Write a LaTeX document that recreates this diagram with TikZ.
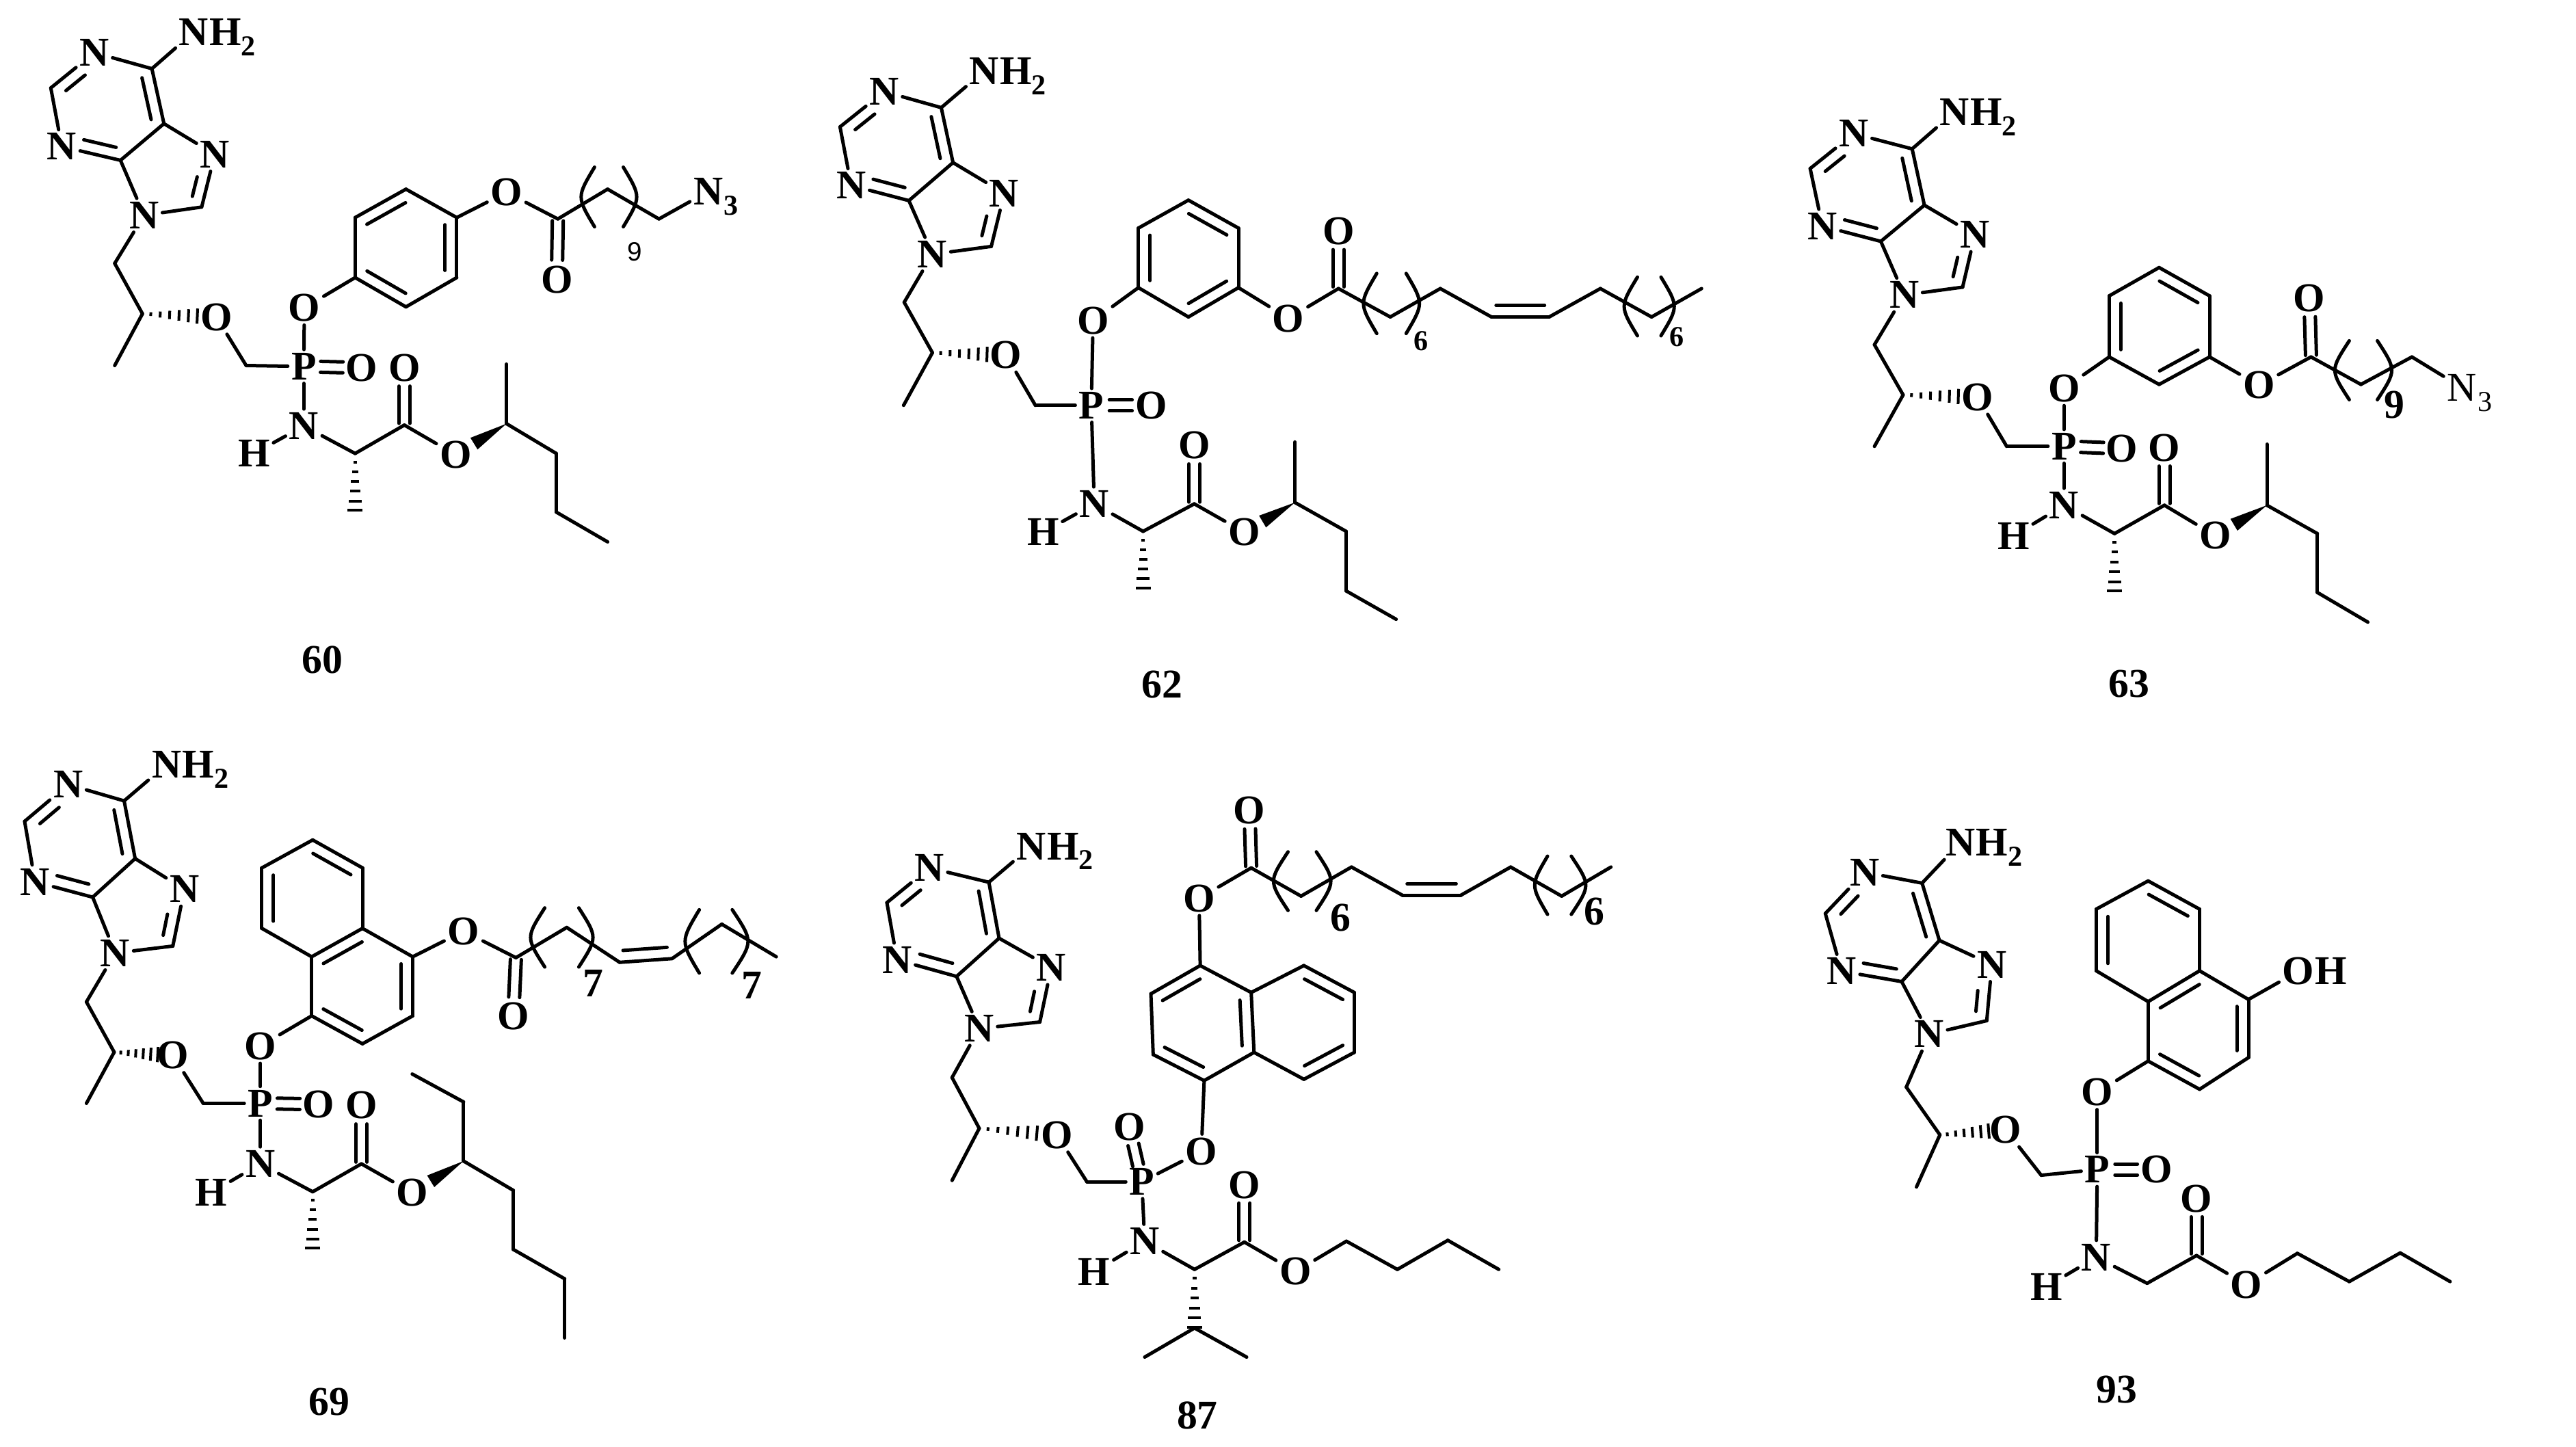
\documentclass[tikz,border=0pt]{standalone}
\usepackage{fontspec}
\setmainfont{Liberation Serif}
\newfontfamily\lsans{Liberation Sans}
\usetikzlibrary{calc}
\tikzset{
  bond/.style={line width=.05cm,line cap=round,line join=round},
  atom/.style={font=\fontsize{17}{19}\selectfont\bfseries,inner sep=.045cm},
  suffix/.style={font=\fontsize{17}{19}\selectfont\bfseries,inner sep=0pt,anchor=base west},
  title/.style={font=\fontsize{17}{19}\selectfont\bfseries,inner sep=0pt},
  count/.style={font=\fontsize{17}{19}\selectfont\bfseries,inner sep=0pt},
  smallcount/.style={font=\fontsize{12}{14}\selectfont\bfseries,inner sep=0pt},
  sanscount/.style={font=\fontsize{11}{13}\selectfont\lsans,inner sep=0pt},
  hashbar/.style={line width=.04cm}
}
\newcommand\subn[1]{\raisebox{-.25em}{\fontsize{12}{13}\selectfont #1}}
\newcommand\Ats[1]{\foreach \n/\x/\y/\l in {#1}{\node[atom] (\m-\n) at (\x,\y) {\l};}}
\newcommand\Cs[1]{\foreach \n/\x/\y in {#1}{\coordinate (\m-\n) at (\x,\y);}}
\newcommand\Bs[1]{\foreach \p/\q in {#1}{\draw[bond] (\m-\p)--(\m-\q);}}
\newcommand\In[4]{\draw[bond] ($(\m-#1)!#3!(\m-#2)!.17cm!90:(\m-#2)$)--($(\m-#1)!#4!(\m-#2)!.17cm!90:(\m-#2)$);}
\newcommand\Two[4]{%
  \draw[bond] ($(\m-#1)!#3!(\m-#2)!.08cm!90:(\m-#2)$)--($(\m-#1)!#4!(\m-#2)!.08cm!90:(\m-#2)$);
  \draw[bond] ($(\m-#1)!#3!(\m-#2)!.08cm!-90:(\m-#2)$)--($(\m-#1)!#4!(\m-#2)!.08cm!-90:(\m-#2)$);}
\newcommand\Hash[2]{\foreach \t in {.15,.32,.49,.66,.83,.99}{%
  \pgfmathsetmacro\w{.012+.1*\t}
  \draw[hashbar] ($(\m-#1)!\t!(\m-#2)!\w cm!90:(\m-#2)$)--($(\m-#1)!\t!(\m-#2)!\w cm!-90:(\m-#2)$);}}
\newcommand\Wedge[2]{%
  \coordinate (\m-we) at ($(\m-#1)!.64!(\m-#2)$);
  \fill ($(\m-we)!.1cm!90:(\m-#1)$)--(\m-#1)--($(\m-we)!.1cm!-90:(\m-#1)$)--cycle;}
\newcommand\Paren[4]{\draw[bond] (#1,#2) .. controls ({#1+2*#4},{(#2+#3)/2}) .. (#1,#3);}
\newcommand\NHtwo{\node[suffix] (\m-nh2s) at ($(\m-nh2.base east)+(-.045cm,0)$) {H\subn{2}};}
\newcommand\PurineLink{%
  \coordinate (\m-hh) at ($(\m-ch)!.75!(\m-oe)$);
  \Bs{n9/ch2,ch2/ch,ch/me,oe/pc,pc/p,c6/nh2,c6/n1,n1/c2,c2/n3,n3/c4,c4/c5,c5/c6,c5/n7,n7/c8,c8/n9,n9/c4}
  \In{c5}{c6}{.12}{.88}\In{n1}{c2}{.38}{.82}\In{n3}{c4}{.33}{.88}\In{c8}{n7}{.15}{.52}
  \Hash{ch}{hh}
}
\begin{document}
\begin{tikzpicture}
\fill[white] (0,0) rectangle (37.67,-21.16);
\useasboundingbox (0,0) rectangle (37.67,-21.16);

% ---------- 60
\begin{scope}[x=.007653cm,y=-.006696cm]
\def\m{a}
\Ats{nh2/370/70/N,n1/180/115/N,n3/118/320/N,n7/410/337/N,n9/275/470/N,oe/413/692/O,p/580/800/P,ox/690/803/O,oa/581/672/O,
 es/967/420/O,co/1063/610/O,azide/1352/418/N,nh/580/930/N,h/485/990/H,o2/772/803/O,o3/870/993/O}
\Cs{c6/290/150,c2/97/192,c4/230/350,c5/313/270,c8/385/452,ch2/219/575,ch/272/685,me/219/798,pc/470/798,
 r1/678/606,r2/678/475,r3/775/413,r4/872/475,r5/872/606,r6/775/670,
 cc/1065/478,k1/1160/413,k2/1258/478,al/678/990,cb/772/928,st/967/925,sm/967/795,t1/1062/990,t2/1062/1118,t3/1160/1183,hd/678/1115}
\NHtwo
\node[suffix] (a-ns) at ($(a-azide.base east)+(-.045cm,0)$) {\subn{3}};
\PurineLink
\Bs{p/oa,oa/r1,r1/r2,r2/r3,r3/r4,r4/r5,r5/r6,r6/r1,r4/es,es/cc,cc/k1,k1/k2,k2/azide,p/nh,nh/h,nh/al,al/cb,cb/o3,st/sm,st/t1,t1/t2,t2/t3}
\In{r3}{r2}{.12}{.88}\In{r5}{r4}{.12}{.88}\In{r1}{r6}{.12}{.88}
\Two{p}{ox}{.29}{.68}\Two{cc}{co}{.03}{.68}\Two{cb}{o2}{.03}{.68}
\Wedge{st}{o3}\Hash{al}{hd}
\Paren{1135}{365}{495}{-17}\Paren{1190}{365}{495}{17}
\node[sanscount] (a-n9) at (1212,550) {9};
\node[title] (a-title) at (615,1440) {60};
\end{scope}

% ---------- 62
\begin{scope}[shift={(12cm,0cm)},x=.00861cm,y=-.006696cm]
\def\m{b}
\Ats{nh2/278/155/N,n1/108/200/N,n3/52/405/N,n7/312/422/N,n9/190/555/N,oe/315/775/O,p/460/885/P,ox/562/885/O,oa/463/700/O,
 es/795/695/O,co/880/505/O,nh/465/1100/N,h/378/1162/H,o2/635/972/O,o3/720/1162/O}
\Cs{c6/205/235,c2/33/277,c4/150/438,c5/225/355,c8/290/538,ch2/142/660,ch/190/770,me/141/885,pc/365/885,
 r1/540/628,r2/540/498,r3/625/437,r4/710/498,r5/710/628,r6/625/692,
 cc/880/630,k1/968/692,k2/1053/630,d1/1140/692,d2/1238/692,k3/1325/630,k4/1412/692,k5/1497/630,
 al/548/1160,cb/635/1100,st/806/1097,sm/806/965,t1/893/1160,t2/893/1290,t3/978/1352,hd/548/1285}
\NHtwo
\PurineLink
\Bs{p/oa,oa/r1,r1/r2,r2/r3,r3/r4,r4/r5,r5/r6,r6/r1,r5/es,es/cc,cc/k1,k1/k2,k2/d1,d1/d2,d2/k3,k3/k4,k4/k5,p/nh,nh/h,nh/al,al/cb,cb/o3,st/sm,st/t1,t1/t2,t2/t3}
\In{r2}{r1}{.12}{.88}\In{r4}{r3}{.12}{.88}\In{r6}{r5}{.12}{.88}\In{d1}{d2}{.08}{.92}
\Two{p}{ox}{.3}{.68}\Two{cc}{co}{.03}{.68}\Two{cb}{o2}{.03}{.68}
\Wedge{st}{o3}\Hash{al}{hd}
\Paren{945}{597}{728}{-15}\Paren{995}{597}{728}{15}
\Paren{1388}{605}{733}{-15}\Paren{1428}{605}{733}{15}
\node[smallcount] (b-n6a) at (1020,745) {6};
\node[smallcount] (b-n6b) at (1455,735) {6};
\node[title] (b-title) at (580,1495) {62};
\end{scope}

% ---------- 63
\begin{scope}[shift={(25.5cm,-.5cm)},x=.00776cm,y=-.006378cm]
\def\m{c}
\Ats{nh2/397/178/N,n1/207/228/N,n3/148/440/N,n7/435/460/N,n9/302/598/N,oe/440/832/O,p/603/945/P,ox/712/950/O,oa/603/812/O,
 es/970/805/O,co/1065/605/O,nh/603/1080/N,h/508/1150/H,o2/792/948/O,o3/888/1150/O}
\node[atom,font=\fontsize{17}{19}\selectfont] (c-azide) at (1352,810) {N};
\Cs{c6/317/263,c2/125/308,c4/258/475,c5/340/392,c8/412/580,ch2/246/712,ch/300/827,me/246/945,pc/495/945,
 r1/688/740,r2/688/600,r3/782/535,r4/877/600,r5/877/740,r6/782/803,
 cc/1068/740,k1/1162/803,k2/1258/740,al/698/1145,cb/792/1080,st/985/1080,sm/985/940,t1/1080/1145,t2/1080/1280,t3/1175/1348,hd/698/1278}
\NHtwo
\node[suffix,font=\fontsize{17}{19}\selectfont] (c-ns) at ($(c-azide.base east)+(-.045cm,0)$) {\subn{3}};
\PurineLink
\Bs{p/oa,oa/r1,r1/r2,r2/r3,r3/r4,r4/r5,r5/r6,r6/r1,r5/es,es/cc,cc/k1,k1/k2,k2/azide,p/nh,nh/h,nh/al,al/cb,cb/o3,st/sm,st/t1,t1/t2,t2/t3}
\In{r2}{r1}{.12}{.88}\In{r4}{r3}{.12}{.88}\In{r6}{r5}{.12}{.88}
\Two{p}{ox}{.29}{.68}\Two{cc}{co}{.03}{.68}\Two{cb}{o2}{.03}{.68}
\Wedge{st}{o3}\Hash{al}{hd}
\Paren{1140}{703}{838}{-18}\Paren{1193}{703}{838}{18}
\node[count] (c-n9) at (1225,850) {9};
\node[title] (c-title) at (725,1490) {63};
\end{scope}

% ---------- 69
\begin{scope}[shift={(0cm,-10.5cm)},x=.007653cm,y=-.0068cm]
\def\m{d}
\Ats{nh2/318/100/N,n1/130/143/N,n3/67/352/N,n7/352/368/N,n9/220/505/N,oe/330/725/O,p/497/828/P,ox/608/830/O,oa/497/705/O,
 es/885/458/O,co/980/640/O,nh/497/958/N,h/403/1020/H,o2/690/832/O,o3/787/1020/O}
\Cs{c6/237/178,c2/47/222,c4/177/385,c5/258/302,c8/330/490,ch2/165/610,ch/218/718,me/165/828,pc/388/828,
 r1/595/640,r2/692/700,r3/788/640,r4/788/513,r4a/692/452,r8a/595/513,r8/500/452,r7/500/322,r6/597/262,r5/692/322,
 cc/985/515,k1/1082/450,d1/1183/525,d2/1283/517,k3/1378/443,k4/1482/513,
 al/597/1018,cb/690/958,st/885/952,u1/885/825,u2/787/765,t1/980/1015,t2/980/1142,t3/1078/1205,t4/1078/1332,hd/597/1140}
\NHtwo
\PurineLink
\Bs{p/oa,oa/r1,r1/r2,r2/r3,r3/r4,r4/r4a,r4a/r8a,r8a/r1,r8a/r8,r8/r7,r7/r6,r6/r5,r5/r4a,r4/es,es/cc,cc/k1,k1/d1,d1/d2,d2/k3,k3/k4,p/nh,nh/h,nh/al,al/cb,cb/o3,st/u1,u1/u2,st/t1,t1/t2,t2/t3,t3/t4}
\In{r1}{r2}{.12}{.88}\In{r3}{r4}{.12}{.88}\In{r4a}{r8a}{.12}{.88}\In{r7}{r8}{.12}{.88}\In{r5}{r6}{.12}{.88}\In{d1}{d2}{.08}{.92}
\Two{p}{ox}{.29}{.68}\Two{cc}{co}{.03}{.68}\Two{cb}{o2}{.03}{.68}
\Wedge{st}{o3}\Hash{al}{hd}
\Paren{1040}{408}{535}{-18}\Paren{1105}{408}{535}{18}
\Paren{1335}{412}{548}{-18}\Paren{1398}{412}{548}{20}
\node[count] (d-n7a) at (1133,570) {7};
\node[count] (d-n7b) at (1435,575) {7};
\node[title] (d-title) at (628,1470) {69};
\end{scope}

% ---------- 87
\begin{scope}[shift={(12cm,-11.2cm)},x=.00829cm,y=-.006352cm]
\def\m{e}
\Ats{nh2/372/185/N,n1/192/235/N,n3/135/447/N,n7/407/465/N,n9/280/605/N,oe/417/850/O,p/567/958/P,ox/545/832/O,oa/672/888/O,
 es/668/305/O,co/757/103/O,nh/572/1095/N,h/483/1165/H,o2/748/965/O,o3/838/1165/O}
\Cs{c6/297/268,c2/117/315,c4/240/485,c5/315/397,c8/387/590,ch2/232/718,ch/280/835,me/232/955,pc/470/958,
 r1/677/725,r2/587/665,r3/583/525,r4/670/460,r4a/760/522,r8a/765/660,r8/853/722,r7/942/660,r6/942/522,r5/853/460,
 cc/760/235,k1/848/300,k2/937/233,d1/1027/298,d2/1130/298,k3/1218/233,k4/1308/300,k5/1395/233,
 al/660/1160,cb/748/1097,t1/928/1095,t2/1018/1160,t3/1107/1093,t4/1197/1160,ip/660/1295,i1/572/1362,i2/752/1362}
\NHtwo
\PurineLink
\Bs{p/oa,oa/r1,r1/r2,r2/r3,r3/r4,r4/r4a,r4a/r8a,r8a/r1,r8a/r8,r8/r7,r7/r6,r6/r5,r5/r4a,r4/es,es/cc,cc/k1,k1/k2,k2/d1,d1/d2,d2/k3,k3/k4,k4/k5,p/nh,nh/h,nh/al,al/cb,cb/o3,o3/t1,t1/t2,t2/t3,t3/t4,ip/i1,ip/i2}
\In{r2}{r1}{.12}{.88}\In{r4}{r3}{.12}{.88}\In{r8a}{r4a}{.12}{.88}\In{r8}{r7}{.12}{.88}\In{r6}{r5}{.12}{.88}\In{d1}{d2}{.08}{.92}
\Two{p}{ox}{.3}{.68}\Two{cc}{co}{.03}{.68}\Two{cb}{o2}{.03}{.68}
\Hash{al}{ip}
\Paren{825}{198}{333}{-17}\Paren{875}{198}{333}{17}
\Paren{1283}{208}{342}{-15}\Paren{1325}{208}{342}{17}
\node[count] (e-n6a) at (918,350) {6};
\node[count] (e-n6b) at (1365,335) {6};
\node[title] (e-title) at (665,1497) {87};
\end{scope}

% ---------- 93
\begin{scope}[shift={(26cm,-11.2cm)},x=.00744cm,y=-.006352cm]
\def\m{f}
\Ats{nh2/358/177/N,n1/170/245/N,n3/125/473/N,n7/420/458/N,n9/297/618/N,oe/447/838/O,p/627/930/P,ox/743/930/O,oa/627/752/O,
 oh/1022/473/O,nh/625/1132/N,h/527/1200/H,o2/822/997/O,o3/920/1195/O}
\Cs{c6/283/270,c2/93/340,c4/243/497,c5/317/402,c8/410/587,ch2/252/740,ch/318/850,me/272/970,pc/517/943,
 r1/727/680,r2/828/745,r3/924/672,r4/924/538,r4a/828/472,r8a/727/543,r8/625/472,r7/625/330,r6/727/265,r5/828/330,
 al/725/1192,cb/822/1128,t1/1020/1123,t2/1122/1188,t3/1222/1122,t4/1320/1188}
\NHtwo
\node[suffix] (f-ohs) at ($(f-oh.base east)+(-.045cm,0)$) {H};
\PurineLink
\Bs{p/oa,oa/r1,r1/r2,r2/r3,r3/r4,r4/r4a,r4a/r8a,r8a/r1,r8a/r8,r8/r7,r7/r6,r6/r5,r5/r4a,r4/oh,p/nh,nh/h,nh/al,al/cb,cb/o3,o3/t1,t1/t2,t2/t3,t3/t4}
\In{r1}{r2}{.12}{.88}\In{r3}{r4}{.12}{.88}\In{r4a}{r8a}{.12}{.88}\In{r7}{r8}{.12}{.88}\In{r5}{r6}{.12}{.88}
\Two{p}{ox}{.3}{.68}\Two{cb}{o2}{.03}{.68}
\node[title] (f-title) at (665,1437) {93};
\end{scope}
\end{tikzpicture}
\end{document}
